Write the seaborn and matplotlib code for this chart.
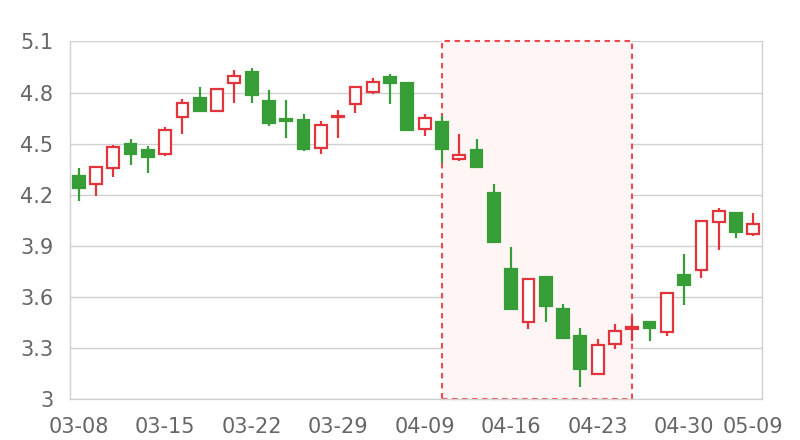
import matplotlib
matplotlib.use("Agg")
import matplotlib.pyplot as plt
from matplotlib.patches import Rectangle
import seaborn as sns

# trading days (labels shown every 5th day plus the last one)
dates = ["03-08", "03-11", "03-12", "03-13", "03-14", "03-15", "03-18", "03-19",
         "03-20", "03-21", "03-22", "03-25", "03-26", "03-27", "03-28", "03-29",
         "04-01", "04-02", "04-03", "04-04", "04-09", "04-10", "04-11", "04-12",
         "04-15", "04-16", "04-17", "04-18", "04-19", "04-22", "04-23", "04-24",
         "04-25", "04-26", "04-29", "04-30", "05-06", "05-07", "05-08", "05-09"]

open_ = [4.31, 4.26, 4.355, 4.50, 4.46, 4.44, 4.655, 4.77, 4.69, 4.855,
         4.92, 4.75, 4.645, 4.64, 4.475, 4.655, 4.735, 4.805, 4.89, 4.855,
         4.585, 4.63, 4.41, 4.46, 4.21, 3.765, 3.45, 3.715, 3.53, 3.37,
         3.145, 3.325, 3.41, 3.455, 3.395, 3.73, 3.76, 4.04, 4.09, 3.97]
close = [4.24, 4.36, 4.48, 4.44, 4.42, 4.58, 4.74, 4.69, 4.82, 4.90,
         4.785, 4.62, 4.635, 4.47, 4.61, 4.665, 4.83, 4.86, 4.855, 4.58,
         4.65, 4.47, 4.435, 4.36, 3.92, 3.53, 3.705, 3.545, 3.36, 3.175,
         3.315, 3.40, 3.42, 3.415, 3.62, 3.67, 4.045, 4.105, 3.98, 4.025]
high = [4.355, 4.365, 4.49, 4.525, 4.485, 4.595, 4.765, 4.835, 4.825, 4.935,
        4.945, 4.815, 4.755, 4.675, 4.635, 4.695, 4.835, 4.885, 4.91, 4.86,
        4.675, 4.66, 4.555, 4.525, 4.265, 3.89, 3.71, 3.72, 3.56, 3.415,
        3.355, 3.44, 3.48, 3.46, 3.625, 3.85, 4.05, 4.12, 4.10, 4.09]
low = [4.165, 4.195, 4.305, 4.375, 4.325, 4.425, 4.555, 4.685, 4.685, 4.74,
       4.74, 4.605, 4.535, 4.455, 4.44, 4.535, 4.68, 4.79, 4.73, 4.575,
       4.545, 4.385, 4.40, 4.355, 3.915, 3.525, 3.41, 3.45, 3.355, 3.07,
       3.14, 3.295, 3.34, 3.34, 3.37, 3.55, 3.71, 3.875, 3.945, 3.955]

# highlighted period
mark_start, mark_end = "04-10", "04-25"

yticks = [3.0, 3.3, 3.6, 3.9, 4.2, 4.5, 4.8, 5.1]
ytick_labels = ["3", "3.3", "3.6", "3.9", "4.2", "4.5", "4.8", "5.1"]
label_days = dates[::5] + [dates[-1]]

up_color = "#e3343b"
down_color = "#379e37"
grid_color = "#d0d0d0"
text_color = "#666666"

sns.set_theme(style="whitegrid")
plt.rcParams["font.family"] = ["DejaVu Sans"]

fig = plt.figure(figsize=(8, 4.4), dpi=100)
ax = fig.add_axes([0.0875, 0.0932, 0.865, 0.8125])

x = list(range(len(dates)))
w = 0.68

# shaded zone
i0, i1 = dates.index(mark_start), dates.index(mark_end)
ax.add_patch(Rectangle((i0, yticks[0]), i1 - i0, yticks[-1] - yticks[0],
                       facecolor="#fff5f5", edgecolor="#ee4a50", linewidth=1.5,
                       linestyle=(0, (2.6, 2.2)), zorder=1, clip_on=False))

for i in x:
    o, c, h, l = open_[i], close[i], high[i], low[i]
    up = c >= o
    col = up_color if up else down_color
    top, bot = max(o, c), min(o, c)
    ax.vlines(i, top, h, color=col, linewidth=1.6, zorder=3)
    ax.vlines(i, l, bot, color=col, linewidth=1.6, zorder=3)
    body = max(top - bot, 0.008)
    ax.add_patch(Rectangle((i - w / 2, bot), w, body,
                           facecolor="white" if up else col, edgecolor=col,
                           linewidth=1.6, zorder=4))

ax.set_xlim(-0.5, len(dates) - 0.5)
ax.set_ylim(yticks[0], yticks[-1])
ax.set_yticks(yticks)
ax.set_yticklabels(ytick_labels)
ax.set_xticks([dates.index(d) for d in label_days])
ax.set_xticklabels(label_days)

ax.grid(axis="y", color=grid_color, linewidth=1)
ax.grid(axis="x", visible=False)
for side in ["left", "right", "bottom"]:
    ax.spines[side].set_visible(True)
    ax.spines[side].set_color(grid_color)
    ax.spines[side].set_linewidth(1)
ax.spines["top"].set_visible(False)

ax.tick_params(axis="both", length=0, labelsize=15, labelcolor=text_color)
ax.tick_params(axis="y", pad=12)
ax.tick_params(axis="x", pad=13)

fig.savefig("out.png", dpi=100)
